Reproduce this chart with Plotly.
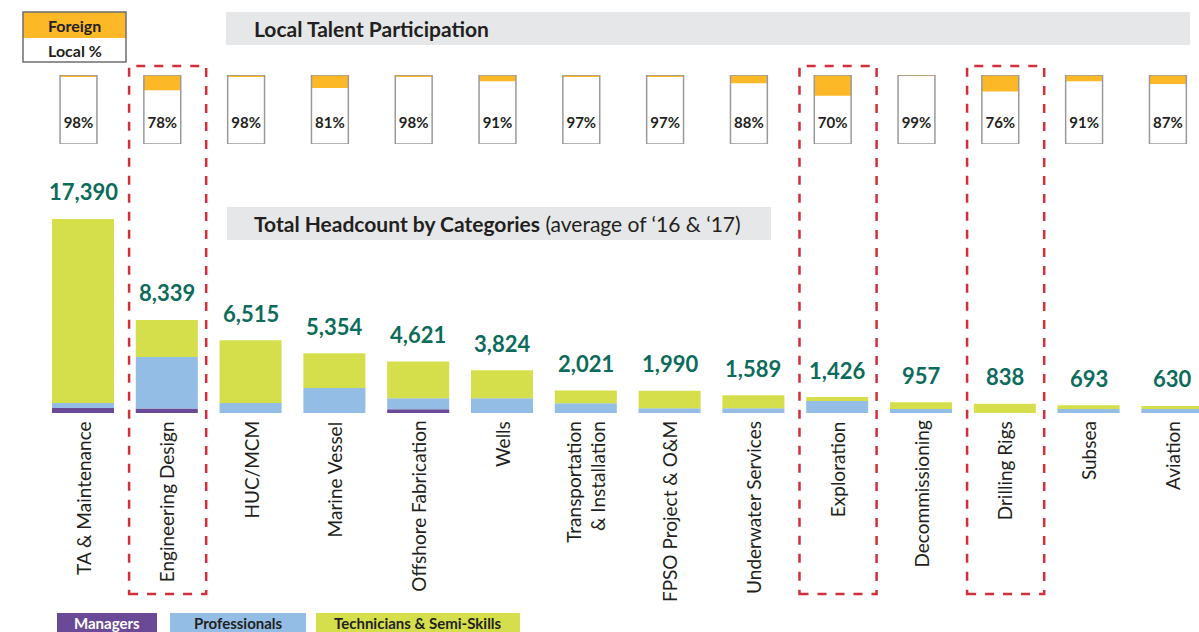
import plotly.graph_objects as go

# ---------------- data ----------------
categories = ["TA & Maintenance", "Engineering Design", "HUC/MCM", "Marine Vessel",
              "Offshore Fabrication", "Wells", "Transportation<br>& Installation",
              "FPSO Project & O&M", "Underwater Services", "Exploration",
              "Decommissioning", "Drilling Rigs", "Subsea", "Aviation"]
totals = [17390, 8339, 6515, 5354, 4621, 3824, 2021, 1990, 1589, 1426, 957, 838, 693, 630]
managers = [450, 410, 0, 0, 330, 0, 0, 0, 0, 0, 0, 0, 0, 0]
professionals = [450, 4600, 900, 2240, 990, 1320, 870, 420, 420, 1070, 360, 0, 360, 360]
technicians = [16490, 3329, 5615, 3114, 3301, 2504, 1151, 1570, 1169, 356, 597, 838, 333, 270]
local_pct = [98, 78, 98, 81, 98, 91, 97, 97, 88, 70, 99, 76, 91, 87]
highlighted = ["Engineering Design", "Exploration", "Drilling Rigs"]

# ---------------- styling / layout constants ----------------
W, H = 1199, 632
PITCH = 83.8          # px per category
FIRST = 83.0          # px center of first category
BASE_PX = 413.0       # px baseline of main bars
UNITS_PER_PX = 89.6
C_MAN, C_PRO, C_TEC = "#6A4A97", "#93BDE5", "#D5DF4B"
C_ORANGE = "#FDB827"
C_TEAL = "#0C6B5B"
C_RED = "#D22F3B"
C_TXT = "#231F20"
C_GREY = "#E6E7E8"
FONT = "Lato"

def px(x):
    return x / W

def py(y):
    return 1 - y / H

idx = list(range(len(categories)))
x_range = [-FIRST / PITCH, (W - FIRST) / PITCH]
y_range = [(BASE_PX - H) * UNITS_PER_PX, BASE_PX * UNITS_PER_PX]
mini_shift = 4.5 / PITCH

fig = go.Figure()

# main stacked bars (explicit bases, overlay mode)
base_pro = managers
base_tec = [m + p for m, p in zip(managers, professionals)]
fig.add_trace(go.Bar(x=idx, y=managers, base=[0] * len(idx), marker_color=C_MAN,
                     marker_line_width=0, width=0.74, name="Managers", xaxis="x", yaxis="y"))
fig.add_trace(go.Bar(x=idx, y=professionals, base=base_pro, marker_color=C_PRO,
                     marker_line_width=0, width=0.74, name="Professionals", xaxis="x", yaxis="y"))
fig.add_trace(go.Bar(x=idx, y=technicians, base=base_tec, marker_color=C_TEC,
                     marker_line_width=0, width=0.74, name="Technicians & Semi-Skills", xaxis="x", yaxis="y"))

# mini local/foreign bars
foreign = [100 - v for v in local_pct]
fig.add_trace(go.Bar(x=idx, y=local_pct, base=[0] * len(idx), marker_color="white",
                     marker_line_width=0, width=0.44, xaxis="x2", yaxis="y2"))
fig.add_trace(go.Bar(x=idx, y=foreign, base=local_pct, marker_color=C_ORANGE,
                     marker_line_width=0, width=0.44, xaxis="x2", yaxis="y2"))
fig.add_trace(go.Bar(x=idx, y=[100] * len(idx), base=[0] * len(idx),
                     marker_color="rgba(0,0,0,0)", marker_line=dict(color="#9A9A9A", width=1.5),
                     width=0.44, xaxis="x2", yaxis="y2"))
fig.add_trace(go.Scatter(x=idx, y=[28] * len(idx), mode="text",
                         text=[f"{v}%" for v in local_pct],
                         textfont=dict(family=FONT, size=15, color=C_TXT, weight="bold"),
                         xaxis="x2", yaxis="y2"))

annotations = []
# value labels
for i, t in zip(idx, totals):
    annotations.append(dict(x=i, y=t, xref="x", yref="y", text=f"{t:,}", showarrow=False,
                            xanchor="center", yanchor="middle", yshift=27,
                            font=dict(family=FONT, size=22, color=C_TEAL, weight="bold")))
# category labels
for i, c in zip(idx, categories):
    annotations.append(dict(x=i, y=0, xref="x", yref="y", text=c, showarrow=False,
                            textangle=-90, xanchor="center", yanchor="top", yshift=-6,
                            align="right", font=dict(family=FONT, size=19, color=C_TXT)))

shapes = []
# highlight dashed boxes
for c in highlighted:
    i = categories.index(c)
    shapes.append(dict(type="rect", xref="x", yref="paper", x0=i - 0.45, x1=i + 0.47,
                       y0=py(594), y1=py(66), line=dict(color=C_RED, width=2.5, dash="dash"),
                       fillcolor="rgba(0,0,0,0)", layer="above"))

def ptext(x, y, text, size, color=C_TXT, xanchor="center"):
    annotations.append(dict(x=px(x), y=py(y), xref="paper", yref="paper", xanchor=xanchor,
                            yanchor="middle", showarrow=False, text=text,
                            font=dict(family=FONT, size=size, color=color)))

# title bars
shapes.append(dict(type="rect", xref="paper", yref="paper", x0=px(226), x1=px(1190),
                   y0=py(45), y1=py(12), fillcolor=C_GREY, line_width=0, layer="below"))
ptext(252, 28.5, "<b>Local Talent Participation</b>", 21, xanchor="left")
shapes.append(dict(type="rect", xref="paper", yref="paper", x0=px(227), x1=px(771),
                   y0=py(240), y1=py(207), fillcolor=C_GREY, line_width=0, layer="below"))
ptext(252, 223.5, "<b>Total Headcount by Categories</b> (average of ‘16 & ‘17)", 21, xanchor="left")

# top-left Foreign / Local % key
shapes.append(dict(type="rect", xref="paper", yref="paper", x0=px(23), x1=px(126),
                   y0=py(38), y1=py(12), fillcolor=C_ORANGE, line_width=0))
shapes.append(dict(type="rect", xref="paper", yref="paper", x0=px(23), x1=px(126),
                   y0=py(62), y1=py(12), fillcolor="rgba(0,0,0,0)",
                   line=dict(color="#6D6E71", width=1.5)))
ptext(74.5, 25.5, "<b>Foreign</b>", 16)
ptext(74.5, 50.5, "<b>Local %</b>", 16)

# bottom legend
legend_items = [("Managers", C_MAN, "white", 57, 157),
                ("Professionals", C_PRO, C_TXT, 170, 306),
                ("Technicians & Semi-Skills", C_TEC, C_TXT, 316, 520)]
for label, col, tcol, x0, x1 in legend_items:
    shapes.append(dict(type="rect", xref="paper", yref="paper", x0=px(x0), x1=px(x1),
                       y0=py(632), y1=py(613), fillcolor=col, line_width=0))
    ptext((x0 + x1) / 2, 623, f"<b>{label}</b>", 15, color=tcol)

fig.update_layout(
    width=W, height=H, margin=dict(l=0, r=0, t=0, b=0),
    paper_bgcolor="white", plot_bgcolor="rgba(0,0,0,0)",
    barmode="overlay", showlegend=False,
    xaxis=dict(range=x_range, domain=[0, 1], visible=False, fixedrange=True),
    yaxis=dict(range=y_range, domain=[0, 1], visible=False, fixedrange=True),
    xaxis2=dict(range=[x_range[0] + mini_shift, x_range[1] + mini_shift], domain=[0, 1],
                anchor="y2", visible=False, fixedrange=True),
    yaxis2=dict(range=[0, 100], domain=[py(144), py(75)], anchor="x2", visible=False,
                fixedrange=True),
    shapes=shapes, annotations=annotations,
)

fig.write_html("out.html", post_script="document.body.style.margin='0';",
               config={"displayModeBar": False})
